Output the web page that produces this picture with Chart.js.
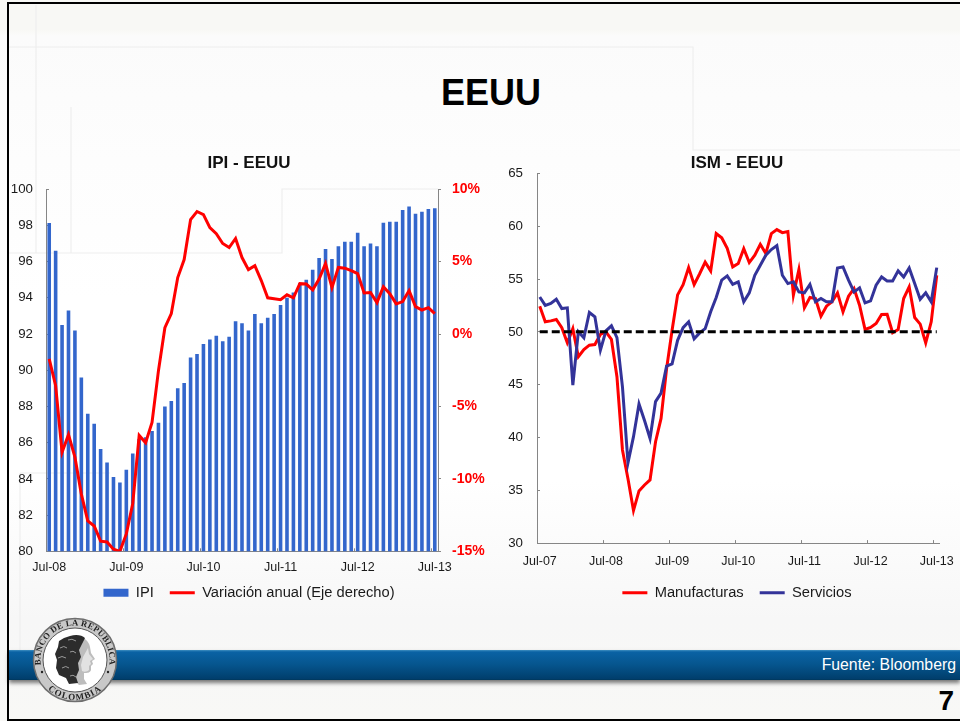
<!DOCTYPE html>
<html lang="es"><head><meta charset="utf-8">
<title>EEUU</title>
<script src="https://cdn.jsdelivr.net/npm/chart.js@4/dist/chart.umd.min.js"></script>
<style>
html,body{margin:0;padding:0;width:960px;height:721px;overflow:hidden;background:#fff}
#slide{position:relative;width:960px;height:721px;overflow:hidden;font-family:"Liberation Sans",Arial,sans-serif;
 background:linear-gradient(to bottom,#f8f8f5 0,#f8f8f5 30px,#fbfbfb 36px,#fdfdfd 160px,#ffffff 300px,#ffffff 480px,#f7f7f7 620px,#f8f8f6 721px)}
#deco,#logo{position:absolute;left:0;top:0}
#frame{position:absolute;left:7px;top:2px;width:990px;height:715px;border:2px solid #000;box-sizing:content-box;z-index:9;pointer-events:none}
#band{position:absolute;left:9px;right:0;top:650px;height:30px;background:linear-gradient(to bottom,#3f8fc0 0,#0a62a4 2px,#06568f 14px,#003e6c 29px,#003556 30px);box-shadow:0 3px 4px #777}
#h1{position:absolute;left:391px;width:200px;top:70px;text-align:center;font-size:36px;line-height:46px;font-weight:bold;color:#000}
#src{position:absolute;right:4px;top:656px;font-size:15.8px;line-height:18px;color:#fff}
#num{position:absolute;right:6px;top:685px;font-size:28px;line-height:32px;font-weight:bold;color:#000}
canvas{position:absolute}
</style></head><body>
<div id="slide">
<svg id="deco" width="960" height="721">
 <g fill="none" stroke="#eeeeee" stroke-width="1.2">
  <path d="M36 5V140"/><path d="M9 47H693V150H960"/><path d="M71 107V253"/><path d="M36 140V253"/>
  <path d="M9 253H282V189H438"/><path d="M20 473V650"/><path d="M20 473H110"/>
 </g>
</svg>
<div id="h1">EEUU</div>
<canvas id="c1" width="498" height="477" style="left:0;top:140px"></canvas>
<canvas id="c2" width="494" height="477" style="left:490px;top:140px"></canvas>
<div id="band"></div>
<div id="src">Fuente: Bloomberg</div>
<div id="num">7</div>
<div id="frame"></div>
<svg id="logo" width="160" height="721" style="z-index:5">
 <defs>
  <path id="arcT" d="M45.1 677.2A34.5 34.5 0 1 1 104.9 677.2"/>
  <path id="arcB" d="M41 681A40 40 0 0 0 109 681"/>
 </defs>
 <circle cx="75" cy="660" r="41.5" fill="#c8c8c8" stroke="#6e6e6e" stroke-width="1.5"/>
 <circle cx="75" cy="660" r="32" fill="#fff" stroke="#555" stroke-width="1"/>
 <text font-family="Liberation Serif,serif" font-size="8.6" font-weight="bold" fill="#222" letter-spacing=".3"><textPath href="#arcT" startOffset="50%" text-anchor="middle">BANCO DE LA REPUBLICA</textPath></text>
 <text font-family="Liberation Serif,serif" font-size="9" font-weight="bold" fill="#222" letter-spacing="1"><textPath href="#arcB" startOffset="50%" text-anchor="middle">COLOMBIA</textPath></text>
 <circle cx="42" cy="672" r="1.2" fill="#222"/><circle cx="108" cy="672" r="1.2" fill="#222"/>
 <path d="M78 637c6 0 11 4 12 10l1 6 4 6-3 2 1 3-2 2 0 4c-1 3-4 3-7 3l0 6 3 5-8 1-8-8-4-15z" fill="#bdbdbd"/>
 <path d="M88 648l1 6 4 5-3 2 1 3-2 2 0 4c-2 2-5 2-7 1l-1-6 2-8z" fill="#e2e2e2"/>
 <path d="M70 636c6-2 12-1 15 2l-3 6-3 6 2 7-3 6 1 7-3 7 2 6-9 1-3-6-7-3-3-7 1-8-2-6 3-7 1-6 5-3z" fill="#2c2c2c"/>
 <g fill="none" stroke="#9a9a9a" stroke-width="1"><path d="M60 648q4-3 7 0"/><path d="M58 658q4-3 8 0"/><path d="M62 668q4-3 7 0"/><path d="M68 640q4-2 8 1"/><path d="M70 652q3-2 6 1"/><path d="M70 676q3-2 6 1"/></g>
</svg>
</div>
<script>
const ipiLabels = ['Jul-08','Aug-08','Sep-08','Oct-08','Nov-08','Dec-08','Jan-09','Feb-09','Mar-09','Apr-09','May-09','Jun-09','Jul-09','Aug-09','Sep-09','Oct-09','Nov-09','Dec-09','Jan-10','Feb-10','Mar-10','Apr-10','May-10','Jun-10','Jul-10','Aug-10','Sep-10','Oct-10','Nov-10','Dec-10','Jan-11','Feb-11','Mar-11','Apr-11','May-11','Jun-11','Jul-11','Aug-11','Sep-11','Oct-11','Nov-11','Dec-11','Jan-12','Feb-12','Mar-12','Apr-12','May-12','Jun-12','Jul-12','Aug-12','Sep-12','Oct-12','Nov-12','Dec-12','Jan-13','Feb-13','Mar-13','Apr-13','May-13','Jun-13','Jul-13'];
const ipi = [98.14,96.6,92.5,93.3,92.2,89.6,87.6,87.05,85.65,84.9,84.1,83.8,84.5,85.4,86.2,86.3,86.65,87.1,88.0,88.3,89.0,89.3,90.7,90.9,91.45,91.7,91.9,91.6,91.85,92.7,92.6,92.2,93.1,92.6,92.9,93.1,93.6,94.0,94.3,94.8,95.0,95.55,96.2,96.7,96.15,96.85,97.1,97.1,97.6,96.85,97.0,96.85,98.15,98.2,98.2,98.85,99.05,98.65,98.75,98.9,98.95];
const variacion = [-1.72,-3.57,-8.17,-6.95,-8.5,-11.05,-12.9,-13.25,-14.3,-14.35,-14.85,-15,-13.8,-11.7,-7.0,-7.5,-6.1,-2.53,0.44,1.41,3.9,5.14,7.9,8.46,8.25,7.35,6.93,6.25,5.97,6.6,5.28,4.45,4.72,3.69,2.5,2.44,2.37,2.71,2.5,3.48,3.45,3.05,3.8,4.88,3.2,4.6,4.55,4.38,4.17,2.84,2.87,2.17,3.27,2.78,2.08,2.24,3.0,1.89,1.66,1.82,1.41];
const ismLabels = ['Jul-07','Aug-07','Sep-07','Oct-07','Nov-07','Dec-07','Jan-08','Feb-08','Mar-08','Apr-08','May-08','Jun-08'].concat(ipiLabels);
const manufacturas = [52.43,50.95,51.04,51.17,50.4,48.96,50.3,47.64,48.33,48.74,48.8,49.75,50,49.28,45.75,38.82,36.1,33.08,34.94,35.5,35.98,39.6,41.8,46.5,50.15,53.5,54.47,56.08,54.47,55.5,56.6,55.77,59.3,58.9,57.9,56.15,56.46,57.88,56.56,57.25,58.29,57.41,59.3,59.68,59.39,59.49,53.47,55.9,52.27,53.25,53.15,51.48,52.43,52.84,53.69,51.89,53.37,54.1,52.52,50.22,50.41,50.79,51.64,51.67,49.91,50.22,53.15,54.26,51.36,50.73,48.96,50.95,55.36];
const servicios = [53.3,52.5,52.68,53.09,52.2,52.27,44.96,50,49.43,51.83,51.42,48.27,50.1,50.57,49.46,44.8,37.6,40.08,43.17,41.6,39.9,43.4,44.2,46.76,46.97,49.2,50.4,50.95,49.34,49.9,50.3,51.9,53.25,54.9,55.3,54.5,54.73,52.84,53.69,55.36,56.3,57.25,57.79,58.16,55.36,54.57,54.73,53.78,53.69,54.48,52.84,53.15,52.84,52.84,56.05,56.15,54.89,53.78,54.16,52.74,52.93,54.41,55.2,54.82,54.82,55.77,55.2,56.05,54.57,53.09,53.69,52.84,56.08];
const umbral = ismLabels.map(() => 50);

const AXIS = '#868686', INK = '#1a1a1a', RED = '#ff0000';
Chart.defaults.font.family = '"Liberation Sans", Arial, sans-serif';
Chart.defaults.animation = false;
const legendLift = {id: 'legendLift', beforeDraw(chart) { chart.legend.top -= 7; chart.legend.bottom -= 7; }};
const legendOpts = {
  display: true, position: 'bottom',
  labels: {usePointStyle: true, pointStyleWidth: 25, boxHeight: 8, padding: 16, color: INK, font: {size: 14.7},
           sort: (a, b) => a.datasetIndex - b.datasetIndex}
};
const titleOpts = (text, bottom) => ({display: true, text, color: '#111', font: {size: 17, weight: 'bold'}, padding: {top: 13, bottom}});
const xAxis = (h, pad) => ({
  offset: true,
  afterFit: s => { s.height = h; },
  border: {color: AXIS, width: 1},
  grid: {offset: true, drawOnChartArea: false, tickLength: -3, tickColor: c => c.index % 12 === 0 ? AXIS : 'transparent'},
  ticks: {autoSkip: false, maxRotation: 0, minRotation: 0, padding: pad, color: INK, font: {size: 12.5},
          callback(v, i) { return i % 12 === 0 ? this.getLabelForValue(v) : ''; }}
});
const leftAxis = (w, min, max, stepSize, pad) => ({
  position: 'left', min, max,
  afterFit: s => { s.width = w; },
  border: {color: AXIS, width: 1},
  grid: {drawOnChartArea: false, tickLength: -3, tickColor: AXIS},
  ticks: {stepSize, padding: pad, color: INK, font: {size: 13.3}}
});

new Chart(document.getElementById('c1'), {
  type: 'bar',
  plugins: [legendLift],
  data: {labels: ipiLabels, datasets: [
    {type: 'bar', label: 'IPI', data: ipi, yAxisID: 'y', order: 2, backgroundColor: '#3366cc',
     categoryPercentage: 1, barPercentage: 0.56, pointStyle: 'rect'},
    {type: 'line', label: 'Variación anual (Eje derecho)', data: variacion, yAxisID: 'y1', order: 1,
     borderColor: RED, backgroundColor: RED, borderWidth: 3, pointRadius: 0, tension: 0, pointStyle: 'line'}
  ]},
  options: {
    responsive: false,
    layout: {autoPadding: false},
    plugins: {title: titleOpts('IPI - EEUU', 15.8), legend: legendOpts, tooltip: {enabled: false}},
    scales: {
      x: xAxis(25, 12),
      y: leftAxis(46, 80, 100, 2, 16),
      y1: {position: 'right', min: -15, max: 10,
        afterFit: s => { s.width = 60; },
        border: {color: AXIS, width: 1},
        grid: {drawOnChartArea: false, tickLength: 3, tickColor: AXIS},
        ticks: {stepSize: 5, padding: 11, color: RED, font: {size: 14, weight: 'bold'}, callback: v => v + '%'}}
    }
  }
});

new Chart(document.getElementById('c2'), {
  type: 'line',
  plugins: [legendLift],
  data: {labels: ismLabels, datasets: [
    {label: 'Manufacturas', data: manufacturas, order: 3, borderColor: RED, backgroundColor: RED, borderWidth: 3, pointRadius: 0, tension: 0, pointStyle: 'line'},
    {label: 'Servicios', data: servicios, order: 2, borderColor: '#333399', backgroundColor: '#333399', borderWidth: 3, pointRadius: 0, tension: 0, pointStyle: 'line'},
    {label: '50', data: umbral, order: 1, borderColor: '#000', borderWidth: 3, borderDash: [8, 4], pointRadius: 0, tension: 0, pointStyle: 'line'}
  ]},
  options: {
    responsive: false,
    layout: {autoPadding: false},
    plugins: {
      title: titleOpts('ISM - EEUU', 0),
      legend: {...legendOpts, labels: {...legendOpts.labels, filter: it => it.text !== '50'}},
      tooltip: {enabled: false}
    },
    scales: {
      x: xAxis(33.2, 13.7),
      y: leftAxis(47, 30, 65, 5, 17),
      yRight: {position: 'right', afterFit: s => { s.width = 44.5; }, border: {display: false}, grid: {display: false}, ticks: {display: false}}
    }
  }
});
</script>
</body></html>
